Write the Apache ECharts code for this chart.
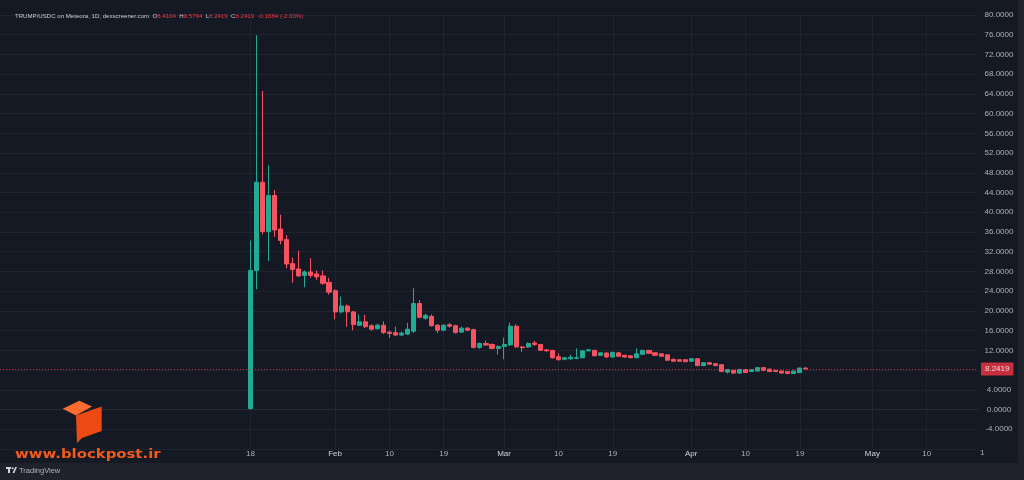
<!DOCTYPE html>
<html>
<head>
<meta charset="utf-8">
<script src="https://cdn.jsdelivr.net/npm/echarts@6/dist/echarts.min.js"></script>
<style>
html,body{margin:0;padding:0;background:#151924;}
#c{width:1024px;height:480px;}
</style>
</head>
<body>
<div id="c"></div>
<script>
// ---- data ----
const axisStart = '2024-12-08';
const axisDays = 162;
const firstCandle = '2025-01-18';
const opens  = [0.2,28.2,46.1,36.1,43.4,36.6,34.5,29.6,28.5,27.2,27.9,27.5,27.1,25.8,
  24.1,19.8,21.0,19.8,17.1,17.8,17.0,16.4,17.1,15.7,15.6,15.1,15.3,15.9,21.5,18.5,18.9,17.1,16.1,17.2,17.0,15.7,16.5,16.2,12.6,13.4,13.2,12.4,
  12.8,13.1,16.9,12.7,12.7,13.5,13.2,12.1,12.0,10.7,10.2,10.3,10.4,10.5,11.9,12.0,11.0,11.46,10.65,11.5,11.0,10.9,10.5,11.2,12.0,11.5,11.3,11.1,10.2,10.1,10.1,
  9.8,10.3,8.9,9.5,9.3,9.1,7.6,7.95,7.4,8.1,7.7,7.8,8.5,8.2,7.95,7.8,7.7,7.3,7.5,8.4104];
const closes = [28.2,46.1,36.1,43.4,36.4,34.3,29.5,28.4,27.1,27.9,27.2,26.9,25.6,23.8,
  19.8,21.0,19.8,17.2,17.8,16.8,16.3,17.1,15.6,15.4,15.1,15.5,16.3,21.5,18.7,19.1,17.0,16.1,17.1,16.9,15.6,16.5,16.1,12.6,13.4,13.1,12.4,12.8,
  13.2,16.9,12.7,12.55,13.4,13.2,12.0,11.9,10.5,10.1,10.5,10.6,10.5,11.9,12.1,10.9,11.5,10.65,11.6,10.8,10.65,10.5,11.3,12.0,11.4,11.0,10.8,10.0,9.8,9.8,9.7,
  10.3,8.9,9.5,9.2,8.9,7.7,8.1,7.4,8.1,7.5,8.1,8.5,7.95,7.7,7.7,7.4,7.3,7.8,8.41,8.2419];
const lows   = [0.0,24.4,35.5,30.1,35.0,33.5,28.6,25.7,26.9,24.8,26.7,26.3,25.3,23.3,
  18.3,19.5,16.8,16.1,16.9,16.5,16.0,16.2,15.3,14.5,14.9,14.9,15.1,15.5,18.5,18.2,16.8,15.5,15.9,16.6,15.4,15.5,15.9,12.4,12.3,12.9,12.2,11.1,
  10.2,12.9,12.5,11.7,12.5,12.9,11.9,11.7,10.3,9.9,10.0,10.1,10.2,10.4,11.8,10.8,10.9,10.5,10.5,10.7,10.5,10.4,10.4,11.1,11.3,10.9,10.7,9.9,9.7,9.7,9.6,
  9.7,8.8,8.8,9.1,8.8,7.6,7.3,7.3,7.2,7.4,7.6,7.7,7.9,7.6,7.6,7.3,7.2,7.2,7.4,8.2419];
const highs  = [34.3,75.9,64.6,49.5,44.5,39.5,35.4,30.8,32.2,28.2,30.7,28.2,28.2,26.7,
  24.4,22.9,21.3,20.0,19.3,19.2,17.3,17.4,17.9,16.0,16.8,15.8,17.6,24.6,22.2,19.4,19.3,17.3,17.3,17.6,17.2,16.8,16.7,16.4,13.6,14.0,13.4,13.0,
  14.6,17.6,17.3,12.9,13.6,13.9,13.3,12.2,12.1,11.4,10.7,11.1,12.4,12.0,12.3,12.1,11.6,11.6,11.7,11.6,11.1,11.0,12.4,12.1,12.1,11.6,11.4,11.2,10.3,10.2,10.2,
  10.4,10.4,9.6,9.6,9.4,9.2,8.2,8.0,8.3,8.2,8.2,8.6,8.6,8.3,8.0,7.9,7.8,7.9,8.5,8.5794];
const lastPrice = 8.2419;
const tickDates  = ['2025-01-18','2025-02-01','2025-02-10','2025-02-19','2025-03-01','2025-03-10','2025-03-19','2025-04-01','2025-04-10','2025-04-19','2025-05-01','2025-05-10'];
const tickLabels = ['18','Feb','10','19','Mar','10','19','Apr','10','19','May','10'];
const monthLabels = ['Feb','Mar','Apr','May'];
const yTicks = {min:-8, max:80, interval:4};

// ---- build ----
function dayStr(base, n){
  const d = new Date(base + 'T00:00:00Z');
  d.setUTCDate(d.getUTCDate() + n);
  return d.toISOString().slice(0,10);
}
const categories = [];
for (let i = 0; i < axisDays; i++) categories.push(dayStr(axisStart, i));
const candleData = opens.map((o, i) => [dayStr(firstCandle, i), o, closes[i], lows[i], highs[i]]);

const up = '#22ab94', down = '#f7525f';
const chart = echarts.init(document.getElementById('c'), null, {renderer:'canvas'});
const showTick = (idx, val) => tickDates.indexOf(val) >= 0;
const tf = {fontSize: 6.1, fontFamily: 'Liberation Sans', fontWeight: 'normal'};

chart.setOption({
  animation: false,
  backgroundColor: '#151924',
  title: {
    left: 10, top: 8,
    text: '{a|TRUMP/USDC on Meteora, 1D, dexscreener.com}  {k|O}{v|8.4104}  {k|H}{v|8.5794}  {k|L}{v|8.2419}  {k|C}{v|8.2419}  {v|-0.1684 (-2.00%)}',
    textStyle: {
      fontSize: 6.1, fontFamily: 'Liberation Sans', fontWeight: 'normal',
      rich: {
        a: Object.assign({color:'#c9ccd4'}, tf),
        k: Object.assign({color:'#c9ccd4'}, tf),
        v: Object.assign({color:'#f23645'}, tf)
      }
    }
  },
  grid: {left: 0, right: 46, top: 15, bottom: 31, containLabel: false},
  xAxis: {
    type: 'category',
    data: categories,
    boundaryGap: true,
    axisLine: {show: true, lineStyle: {color: '#262a35'}},
    axisTick: {show: false},
    axisLabel: {
      interval: showTick,
      margin: 1,
      fontSize: 8,
      fontFamily: 'Liberation Sans',
      color: '#aeb1ba',
      formatter: v => {
        const t = tickLabels[tickDates.indexOf(v)] || '';
        return monthLabels.indexOf(t) >= 0 ? '{m|' + t + '}' : t;
      },
      rich: {m: {color: '#d1d4dc', fontSize: 8, fontFamily: 'Liberation Sans'}}
    },
    splitLine: {show: true, interval: showTick, alignWithLabel: true, lineStyle: {color: '#1f2330', width: 1}}
  },
  yAxis: {
    type: 'value',
    position: 'right',
    min: yTicks.min, max: yTicks.max, interval: yTicks.interval,
    axisLine: {show: false},
    axisTick: {show: false},
    axisLabel: {
      margin: 21, align: 'center', fontSize: 8, fontFamily: 'Liberation Sans', color: '#aeb1ba',
      formatter: v => (v === -8 || v === 8) ? '' : v.toFixed(4)
    },
    splitLine: {show: true, lineStyle: {color: '#1f2330', width: 1}}
  },
  series: [{
    type: 'candlestick',
    data: candleData,
    encode: {x: 0, y: [1, 2, 3, 4]},
    barWidth: 4.6,
    itemStyle: {color: up, color0: down, borderColor: up, borderColor0: down, borderWidth: 1},
    markLine: {
      silent: true,
      symbol: ['none', 'none'],
      data: [{yAxis: lastPrice}],
      lineStyle: {color: '#f23645', type: [1, 2], width: 1, opacity: 0.8},
      label: {
        position: 'end', distance: 3,
        formatter: () => lastPrice.toFixed(4),
        color: '#ffffff', backgroundColor: '#f23645',
        padding: [3, 4, 2, 4], fontSize: 8, fontFamily: 'Liberation Sans', borderRadius: 1
      }
    }
  }],
  graphic: [
    {type:'rect', z: 0, shape:{x:0, y:463, width:1024, height:17}, style:{fill:'#1f222b'}},
    {type:'rect', z: 0, shape:{x:1018, y:0, width:6, height:463}, style:{fill:'#1f222b'}},
    {type:'text', z: 5, left: 980, top: 449, style:{text:'1', fill:'#aeb1ba', font:'8px "Liberation Sans"'}},
    // blockpost logo
    {type:'polygon', z: 5, shape:{points:[[62.7,408.7],[79.3,400.7],[92,406.5],[76,415.5]]}, style:{fill:'#fb6a2e'}},
    {type:'polygon', z: 5, shape:{points:[[76,415.5],[101.7,406.5],[101.7,431],[82,438],[77,443]]}, style:{fill:'#ec4a12'}},
    {type:'text', z: 5, x: 15, y: 449, scaleX: 1.24, style:{text:'www.blockpost.ir', fill:'#f35a1f', font:'bold 12px "DejaVu Sans"'}},
    // TradingView mark
    {type:'rect', z: 5, shape:{x:6, y:467, width:5, height:2}, style:{fill:'#d1d4dc'}},
    {type:'rect', z: 5, shape:{x:8, y:467, width:2, height:6}, style:{fill:'#d1d4dc'}},
    {type:'circle', z: 5, shape:{cx:12.6, cy:468.2, r:1}, style:{fill:'#d1d4dc'}},
    {type:'polygon', z: 5, shape:{points:[[12.5,473],[15.2,467],[17,467],[14.3,473]]}, style:{fill:'#d1d4dc'}},
    {type:'text', z: 5, x: 19, y: 466.5, style:{text:'TradingView', fill:'#b2b5be', font:'7.5px "Liberation Sans"'}}
  ]
});
</script>
</body>
</html>
